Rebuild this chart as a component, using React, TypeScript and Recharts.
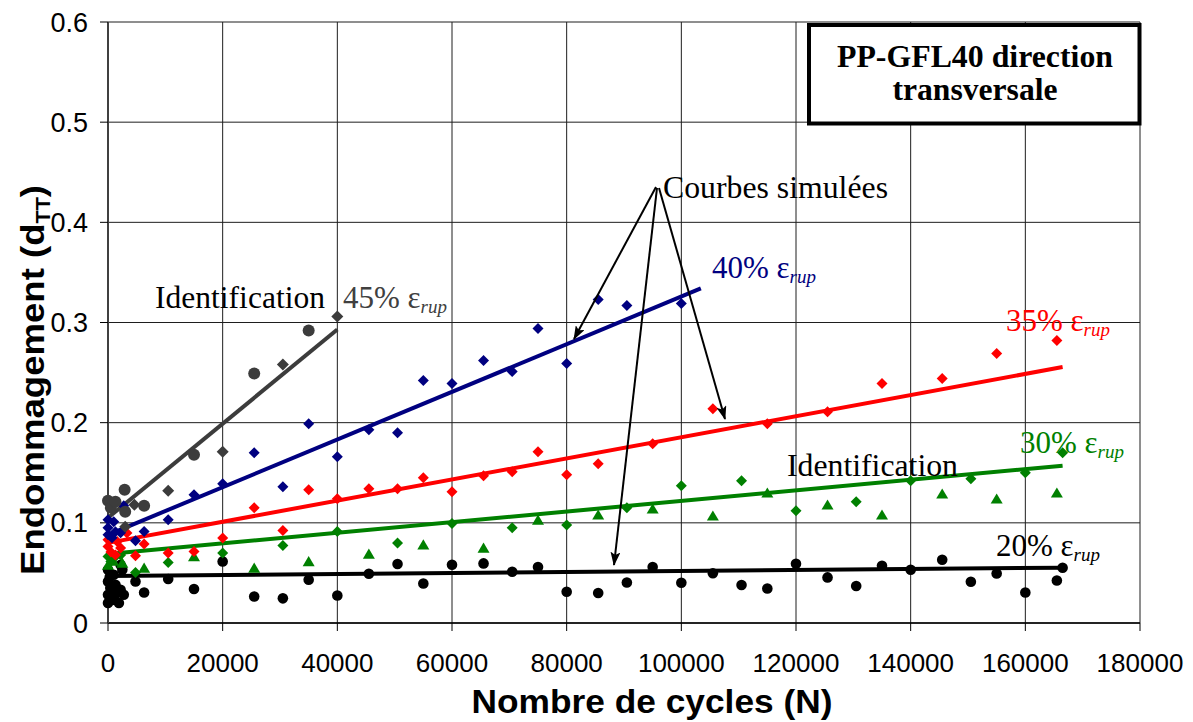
import React from 'react';
import { ComposedChart, Scatter, Line, XAxis, YAxis, CartesianGrid } from 'recharts';

// ---- tick labels ----
const xTicks = [0, 20000, 40000, 60000, 80000, 100000, 120000, 140000, 160000, 180000];
const yTicks = [0, 0.1, 0.2, 0.3, 0.4, 0.5, 0.6];

// ---- measured points (x = N cycles, y = damage) ----
const pts45circles = [
  { x: 0, y: 0.122 }, { x: 500, y: 0.115 }, { x: 1300, y: 0.121 }, { x: 2900, y: 0.133 },
  { x: 3000, y: 0.111 }, { x: 6300, y: 0.117 }, { x: 15000, y: 0.168 }, { x: 25500, y: 0.249 },
  { x: 35000, y: 0.292 },
];
const pts45diamonds = [
  { x: 3000, y: 0.096 }, { x: 4600, y: 0.118 }, { x: 10500, y: 0.132 }, { x: 20000, y: 0.171 },
  { x: 30500, y: 0.258 }, { x: 40000, y: 0.306 },
];
const pts40 = [
  { x: 0, y: 0.103 }, { x: 1000, y: 0.101 }, { x: 0, y: 0.095 }, { x: 1300, y: 0.091 },
  { x: 0, y: 0.088 }, { x: 700, y: 0.085 }, { x: 2200, y: 0.09 }, { x: 2750, y: 0.117 },
  { x: 4800, y: 0.082 }, { x: 6300, y: 0.0914 }, { x: 10500, y: 0.103 }, { x: 15000, y: 0.128 },
  { x: 20000, y: 0.139 }, { x: 25500, y: 0.17 }, { x: 30500, y: 0.136 }, { x: 35000, y: 0.199 },
  { x: 40000, y: 0.166 }, { x: 45500, y: 0.193 }, { x: 50500, y: 0.19 }, { x: 55000, y: 0.242 },
  { x: 60000, y: 0.239 }, { x: 65500, y: 0.262 }, { x: 70500, y: 0.251 }, { x: 75000, y: 0.294 },
  { x: 80000, y: 0.259 }, { x: 85500, y: 0.323 }, { x: 90500, y: 0.317 }, { x: 100000, y: 0.319 },
];
const pts35 = [
  { x: 0, y: 0.083 }, { x: 500, y: 0.071 }, { x: 0, y: 0.0764 }, { x: 1300, y: 0.068 },
  { x: 1600, y: 0.0814 }, { x: 2200, y: 0.0749 }, { x: 3300, y: 0.0898 }, { x: 4800, y: 0.0672 },
  { x: 6300, y: 0.0788 }, { x: 10500, y: 0.0699 }, { x: 15000, y: 0.0715 }, { x: 20000, y: 0.0848 },
  { x: 25500, y: 0.115 }, { x: 30500, y: 0.0924 }, { x: 35000, y: 0.133 }, { x: 40000, y: 0.124 },
  { x: 45500, y: 0.134 }, { x: 50500, y: 0.134 }, { x: 55000, y: 0.145 }, { x: 60000, y: 0.131 },
  { x: 65500, y: 0.147 }, { x: 70500, y: 0.151 }, { x: 75000, y: 0.171 }, { x: 80000, y: 0.148 },
  { x: 85500, y: 0.159 }, { x: 95000, y: 0.179 }, { x: 105500, y: 0.214 }, { x: 115000, y: 0.199 },
  { x: 125500, y: 0.211 }, { x: 135000, y: 0.239 }, { x: 145500, y: 0.244 }, { x: 155000, y: 0.269 },
  { x: 165500, y: 0.282 },
];
const pts30diamonds = [
  { x: 0, y: 0.0665 }, { x: 1300, y: 0.0665 }, { x: 2200, y: 0.068 }, { x: 500, y: 0.0615 },
  { x: 4800, y: 0.0505 }, { x: 10500, y: 0.0605 }, { x: 20000, y: 0.0699 }, { x: 30500, y: 0.0774 },
  { x: 40000, y: 0.0914 }, { x: 50500, y: 0.0798 }, { x: 60000, y: 0.0994 }, { x: 70500, y: 0.0951 },
  { x: 80000, y: 0.0978 }, { x: 90500, y: 0.115 }, { x: 100000, y: 0.137 }, { x: 110500, y: 0.142 },
  { x: 120000, y: 0.112 }, { x: 130500, y: 0.121 }, { x: 140000, y: 0.142 }, { x: 150500, y: 0.144 },
  { x: 160000, y: 0.15 }, { x: 166500, y: 0.17 },
];
const pts30triangles = [
  { x: 0, y: 0.058 }, { x: 900, y: 0.062 }, { x: 2500, y: 0.06 }, { x: 6300, y: 0.0549 },
  { x: 15000, y: 0.0665 }, { x: 25500, y: 0.0549 }, { x: 35000, y: 0.0615 }, { x: 45500, y: 0.0689 },
  { x: 55000, y: 0.0781 }, { x: 65500, y: 0.0749 }, { x: 75000, y: 0.103 }, { x: 85500, y: 0.108 },
  { x: 95000, y: 0.114 }, { x: 105500, y: 0.107 }, { x: 115000, y: 0.13 }, { x: 125500, y: 0.118 },
  { x: 135000, y: 0.108 }, { x: 145500, y: 0.129 }, { x: 155000, y: 0.124 }, { x: 165500, y: 0.13 },
];
const pts20 = [
  { x: 0, y: 0.0532 }, { x: 2200, y: 0.058 }, { x: 2500, y: 0.0532 }, { x: 1000, y: 0.0482 },
  { x: 0, y: 0.0415 }, { x: 400, y: 0.0349 }, { x: 1300, y: 0.0382 }, { x: 2200, y: 0.0332 },
  { x: 0, y: 0.0282 }, { x: 1000, y: 0.025 }, { x: 2750, y: 0.0282 }, { x: 1900, y: 0.02 },
  { x: 0, y: 0.02 }, { x: 700, y: 0.023 }, { x: 1500, y: 0.03 }, { x: 300, y: 0.046 },
  { x: 4800, y: 0.0415 }, { x: 6300, y: 0.0305 }, { x: 10500, y: 0.0439 },
  { x: 15000, y: 0.0339 }, { x: 20000, y: 0.0615 }, { x: 25500, y: 0.0265 }, { x: 30500, y: 0.0246 },
  { x: 35000, y: 0.0432 }, { x: 40000, y: 0.0275 }, { x: 45500, y: 0.0492 }, { x: 50500, y: 0.0589 },
  { x: 55000, y: 0.0395 }, { x: 60000, y: 0.0582 }, { x: 65500, y: 0.0595 }, { x: 70500, y: 0.0512 },
  { x: 75000, y: 0.0559 }, { x: 80000, y: 0.0312 }, { x: 85500, y: 0.0299 }, { x: 90500, y: 0.0405 },
  { x: 95000, y: 0.0559 }, { x: 100000, y: 0.0402 }, { x: 105500, y: 0.0497 }, { x: 110500, y: 0.0379 },
  { x: 115000, y: 0.0345 }, { x: 120000, y: 0.0592 }, { x: 125500, y: 0.0455 }, { x: 130500, y: 0.0369 },
  { x: 135000, y: 0.0572 }, { x: 140000, y: 0.0532 }, { x: 145500, y: 0.0632 }, { x: 150500, y: 0.0412 },
  { x: 155000, y: 0.0495 }, { x: 160000, y: 0.0305 }, { x: 165500, y: 0.0425 }, { x: 166500, y: 0.0552 },
];

// ---- simulated curves ----
const sim45 = [{ x: 0, y: 0.105 }, { x: 40000, y: 0.293 }];
const sim40 = [{ x: 0, y: 0.088 }, { x: 103400, y: 0.334 }];
const sim35 = [{ x: 0, y: 0.08 }, { x: 166500, y: 0.2555 }];
const sim30 = [{ x: 0, y: 0.069 }, { x: 166500, y: 0.157 }];
const sim20 = [{ x: 0, y: 0.047 }, { x: 166500, y: 0.0552 }];

const GRAY = '#3c3c3c';
const NAVY = '#000080';
const RED = '#ff0000';
const GREEN = '#008000';
const BLACK = '#000000';

const circleShape = (r: number, fill: string) => (p: any) =>
  <circle cx={p.cx} cy={p.cy} r={r} fill={fill} />;
const diamondShape = (h: number, fill: string) => (p: any) =>
  <path d={`M${p.cx},${p.cy - h}L${p.cx + h},${p.cy}L${p.cx},${p.cy + h}L${p.cx - h},${p.cy}Z`} fill={fill} />;
const triangleShape = (h: number, fill: string) => (p: any) =>
  <path d={`M${p.cx},${p.cy - h * 0.9}L${p.cx + h},${p.cy + h * 0.8}L${p.cx - h},${p.cy + h * 0.8}Z`} fill={fill} />;

const SERIF = '"Liberation Serif", "Times New Roman", serif';
const SANS = '"Liberation Sans", Arial, sans-serif';

const Eps = ({ x, y, pct, color }: { x: number; y: number; pct: string; color: string }) => (
  <text x={x} y={y} fill={color} fontFamily={SERIF} fontSize={31}>
    {pct}% ε
    <tspan fontStyle="italic" fontSize={19} dy={5}>rup</tspan>
  </text>
);

export default function App() {
  return (
    <div style={{ position: 'relative', width: 1185, height: 714, fontFamily: SANS }}>
      <ComposedChart width={1185} height={714} margin={{ top: 14, right: 53, bottom: 39, left: 0 }}>
        <CartesianGrid stroke="#1e1e1e" strokeWidth={1} />
        <XAxis
          type="number"
          dataKey="x"
          domain={[0, 180000]}
          ticks={xTicks}
          interval={0}
          height={60}
          tickSize={8}
          tickMargin={23}
          axisLine={{ stroke: '#000', strokeWidth: 1.5 }}
          tickLine={{ stroke: '#000' }}
          tick={{ fontFamily: SANS, fontSize: 26, fill: '#000' }}
        />
        <YAxis
          type="number"
          dataKey="y"
          domain={[0, 0.6]}
          ticks={yTicks}
          interval={0}
          width={100}
          tickSize={8}
          tickMargin={12}
          tickFormatter={(v: number) => (v === 0 ? '0' : String(v))}
          axisLine={{ stroke: '#404040', strokeWidth: 2 }}
          tickLine={{ stroke: '#000' }}
          tick={{ fontFamily: SANS, fontSize: 27, fill: '#000' }}
        />
        <Scatter data={pts20} shape={circleShape(5.3, BLACK)} isAnimationActive={false} />
        <Scatter data={pts30triangles} shape={triangleShape(6, GREEN)} isAnimationActive={false} />
        <Scatter data={pts30diamonds} shape={diamondShape(5.5, GREEN)} isAnimationActive={false} />
        <Scatter data={pts35} shape={diamondShape(5.5, RED)} isAnimationActive={false} />
        <Scatter data={pts40} shape={diamondShape(5.5, NAVY)} isAnimationActive={false} />
        <Scatter data={pts45diamonds} shape={diamondShape(6, GRAY)} isAnimationActive={false} />
        <Scatter data={pts45circles} shape={circleShape(6, GRAY)} isAnimationActive={false} />
        <Line data={sim20} dataKey="y" type="linear" stroke={BLACK} strokeWidth={4} dot={false} isAnimationActive={false} />
        <Line data={sim30} dataKey="y" type="linear" stroke={GREEN} strokeWidth={4} dot={false} isAnimationActive={false} />
        <Line data={sim35} dataKey="y" type="linear" stroke={RED} strokeWidth={4} dot={false} isAnimationActive={false} />
        <Line data={sim40} dataKey="y" type="linear" stroke={NAVY} strokeWidth={4} dot={false} isAnimationActive={false} />
        <Line data={sim45} dataKey="y" type="linear" stroke={GRAY} strokeWidth={4} dot={false} isAnimationActive={false} />
      </ComposedChart>
      <svg width={1185} height={714} style={{ position: 'absolute', left: 0, top: 0, pointerEvents: 'none' }}>
        <defs>
          <marker id="ah" markerWidth="14" markerHeight="10" refX="13" refY="5" orient="auto" markerUnits="userSpaceOnUse">
            <path d="M0,0 L14,5 L0,10 L3,5 Z" fill="#000" />
          </marker>
        </defs>
        <g transform="translate(-8,-8)">
          {/* axis titles */}
          <text x={652} y={713} textAnchor="middle" fontFamily={SANS} fontWeight="bold" fontSize={33}
            textLength={361} lengthAdjust="spacingAndGlyphs" fill="#000">Nombre de cycles (N)</text>
          <text transform="translate(44,380) rotate(-90)" textAnchor="middle" fontFamily={SANS} fontWeight="bold"
            fontSize={34} textLength={390} lengthAdjust="spacingAndGlyphs" fill="#000">
            Endommagement (d<tspan fontSize={20} dy={6}>TT</tspan><tspan dy={-6}>)</tspan>
          </text>

          {/* title box */}
          <rect x={809} y={25} width={330.5} height={98.5} fill="#fff" stroke="#000" strokeWidth={4} />
          <text x={975} y={67} textAnchor="middle" fontFamily={SERIF} fontWeight="bold" fontSize={31}
            textLength={276} lengthAdjust="spacingAndGlyphs" fill="#000">PP-GFL40 direction</text>
          <text x={975} y={100} textAnchor="middle" fontFamily={SERIF} fontWeight="bold" fontSize={31}
            textLength={165} lengthAdjust="spacingAndGlyphs" fill="#000">transversale</text>

          {/* annotations */}
          <text x={155} y={308} fontFamily={SERIF} fontSize={31} textLength={170} lengthAdjust="spacingAndGlyphs" fill="#000">Identification</text>
          <Eps x={343} y={308} pct="45" color="#404040" />
          <Eps x={712} y={278} pct="40" color={NAVY} />
          <Eps x={1006} y={331} pct="35" color={RED} />
          <Eps x={1020} y={453} pct="30" color={GREEN} />
          <text x={787} y={476} fontFamily={SERIF} fontSize={31} textLength={171} lengthAdjust="spacingAndGlyphs" fill="#000">Identification</text>
          <Eps x={996} y={556} pct="20" color={BLACK} />

          <text x={663} y={198} fontFamily={SERIF} fontSize={31} textLength={225} lengthAdjust="spacingAndGlyphs" fill="#000">Courbes simulées</text>
          <line x1={656} y1={187} x2={574} y2={339} stroke="#000" strokeWidth={2} markerEnd="url(#ah)" />
          <line x1={657} y1={188} x2={614} y2={565} stroke="#000" strokeWidth={2} markerEnd="url(#ah)" />
          <line x1={659} y1={188} x2={725} y2={419} stroke="#000" strokeWidth={2} markerEnd="url(#ah)" />
        </g>
      </svg>
    </div>
  );
}
